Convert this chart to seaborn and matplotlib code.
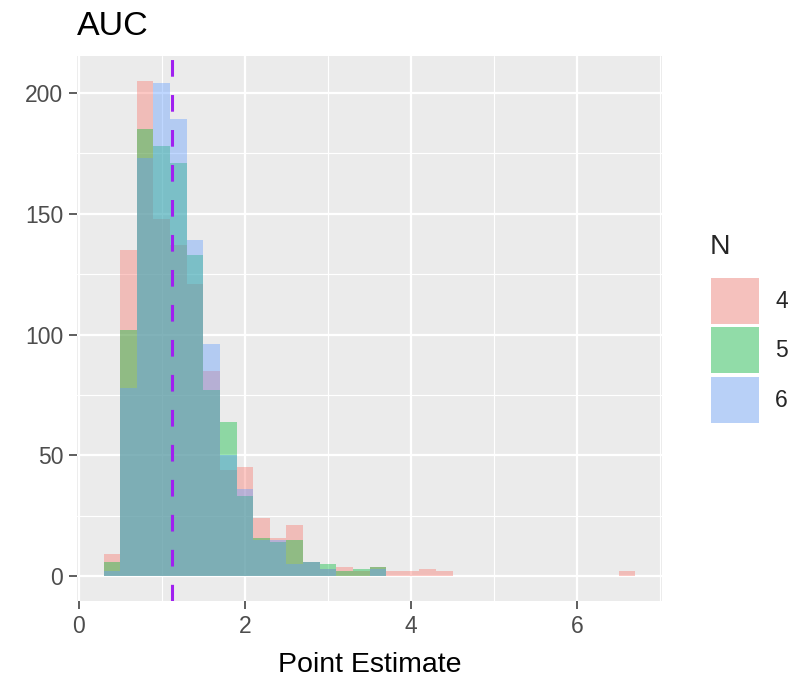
import numpy as np
import pandas as pd
import matplotlib
matplotlib.use("Agg")
import matplotlib.pyplot as plt
from matplotlib.patches import Patch
from matplotlib.ticker import MultipleLocator
import seaborn as sns

# ----------------------------------------------------------
# data: histogram counts per bin (bin width 0.2, from 0.3 to 6.7)
# ----------------------------------------------------------

bin_centers = [0.4, 0.6, 0.8, 1.0, 1.2, 1.4, 1.6, 1.8, 2.0, 2.2, 2.4,
               2.6, 2.8, 3.0, 3.2, 3.4, 3.6, 3.8, 4.0, 4.2, 4.4, 4.6,
               4.8, 5.0, 5.2, 5.4, 5.6, 5.8, 6.0, 6.2, 6.4, 6.6]

counts_n4 = [9, 135, 205, 148, 137, 121, 85, 44, 45, 24, 16,
             21, 6, 3, 4, 2, 4, 2, 2, 3, 2, 0,
             0, 0, 0, 0, 0, 0, 0, 0, 0, 2]

counts_n5 = [6, 102, 185, 178, 171, 133, 77, 64, 33, 16, 14,
             15, 6, 5, 2, 3, 4, 0, 0, 0, 0, 0,
             0, 0, 0, 0, 0, 0, 0, 0, 0, 0]

counts_n6 = [2, 78, 173, 204, 189, 139, 96, 50, 36, 15, 15,
             5, 6, 3, 0, 0, 3, 0, 0, 0, 0, 0,
             0, 0, 0, 0, 0, 0, 0, 0, 0, 0]

groups = ["4", "5", "6"]
colors = ["#F8766D", "#00BA38", "#619CFF"]
median_line = 1.125

df = pd.DataFrame({
    "x": bin_centers * 3,
    "count": counts_n4 + counts_n5 + counts_n6,
    "N": [g for g in groups for _ in bin_centers],
})

# ----------------------------------------------------------
# style
# ----------------------------------------------------------

sns.set_style("darkgrid", {"axes.facecolor": "#EBEBEB", "grid.color": "white"})
plt.rcParams["font.family"] = ["Liberation Sans", "DejaVu Sans"]

fig = plt.figure(figsize=(8, 6.82), dpi=100)
ax = fig.add_axes([77 / 800, 1 - 601 / 682, 585 / 800, 545 / 682])

# draw groups one by one so that later groups are layered on top
for g, c in zip(groups, colors):
    sns.histplot(
        data=df[df["N"] == g],
        x="x",
        weights="count",
        binwidth=0.2,
        binrange=(0.3, 6.7),
        color=c,
        alpha=0.4,
        linewidth=0,
        edgecolor="none",
        ax=ax,
    )

ax.axvline(median_line, color="#A020F0", lw=2.2, ls=(0, (5.45, 6)))

ax.set_xlim(-0.02, 7.02)
ax.set_ylim(-10.25, 215.25)
ax.set_xticks([0, 2, 4, 6])
ax.set_yticks([0, 50, 100, 150, 200])
ax.xaxis.set_minor_locator(MultipleLocator(1))
ax.yaxis.set_minor_locator(MultipleLocator(25))
ax.grid(which="major", color="white", lw=1.6)
ax.grid(which="minor", color="white", lw=0.8)
ax.set_axisbelow(True)
for s in ax.spines.values():
    s.set_visible(False)

ax.tick_params(which="major", length=6, width=1.1, color="#333333",
               labelsize=16.5, labelcolor="#4D4D4D", pad=4)
ax.tick_params(which="minor", length=0)
ax.tick_params(axis="x", bottom=True)
ax.tick_params(axis="y", left=True)

ax.set_ylabel("")
ax.set_xlabel("Point Estimate", fontsize=20.5, color="black", labelpad=10)
ax.set_title("AUC", loc="left", fontsize=24.5, color="black", pad=15)

# legend
key_colors = []
for c in colors:
    rgb = np.array(matplotlib.colors.to_rgb(c))
    key_colors.append(0.4 * rgb + 0.6 * np.array([0.95, 0.95, 0.95]))

handles = [Patch(facecolor=kc, edgecolor="none") for kc in key_colors]
leg_fs = 16.5
# patch height in matplotlib legend = fs * (0.65 * handleheight + 0.245)
hh = (46 * 0.72 / leg_fs - 0.245) / 0.65
fig.legend(handles, groups, loc="upper left",
           bbox_to_anchor=(711 / 800, 1 - 278 / 682),
           frameon=False, fontsize=leg_fs, borderpad=0, borderaxespad=0,
           handlelength=48 * 0.72 / leg_fs, handleheight=hh,
           labelspacing=0.15, handletextpad=0.7)
fig.text(710 / 800, 1 - 247 / 682, "N", fontsize=20.5, ha="left", va="center")

plt.savefig("out.png", dpi=100)
plt.close()
